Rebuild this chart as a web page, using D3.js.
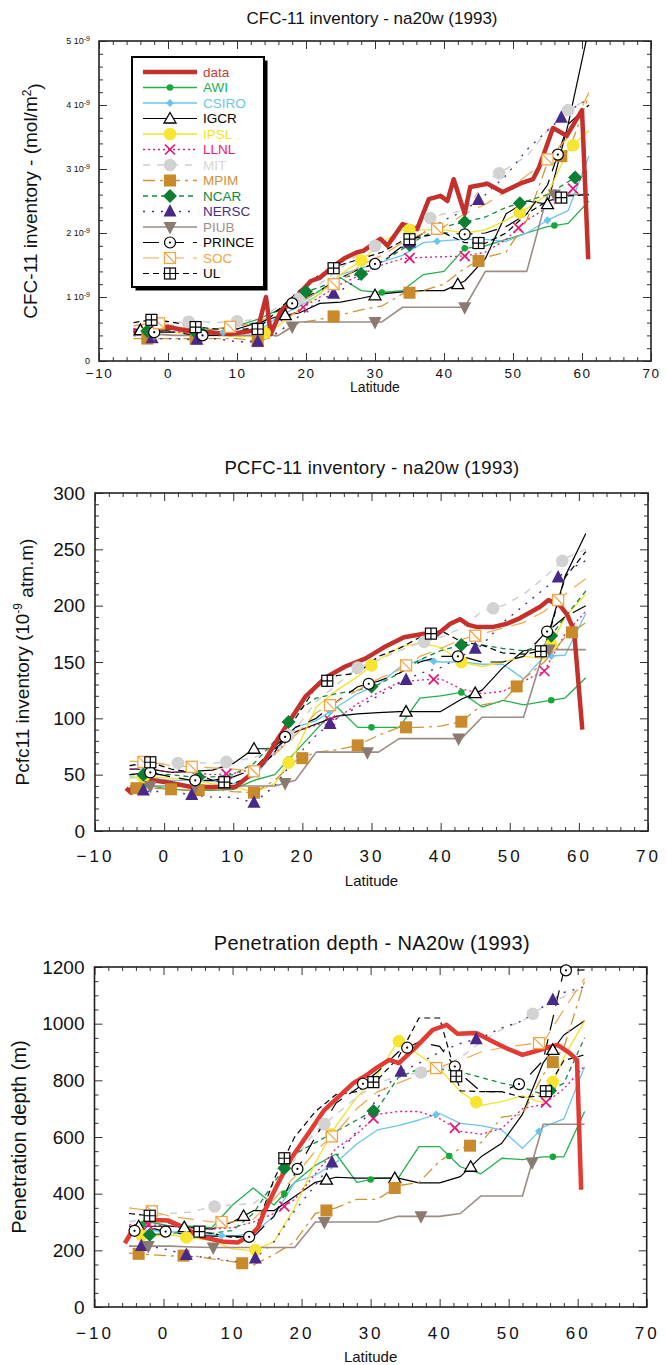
<!DOCTYPE html>
<html><head><meta charset="utf-8">
<script src="https://cdn.jsdelivr.net/npm/d3@7"></script>
<style>
body{margin:0;background:#fff;}
svg{display:block;font-family:"Liberation Sans",Arial,sans-serif;}
</style></head><body>
<svg id="c" width="666" height="1365"></svg>
<script>
// ---------------- DATA ----------------
const latGrid = [-5,-2,1,4,7,10,13,16,19,22,25,28,31,34,37,40,43,46,49,52,55,58,61];
const models = ["AWI","CSIRO","IGCR","IPSL","LLNL","MIT","MPIM","NCAR","NERSC","PIUB","PRINCE","SOC","UL"];
const xTickLabels = [-10,0,10,20,30,40,50,60,70];

// Panel 1: CFC-11 inventory (units of 1e-9 mol/m2)
const cfcDataLat = [-5,-3,0,3,6,9,12,13,14.2,14.9,16.3,18.3,20.7,22,24,25.5,27.4,28.3,30.8,31.8,34,36.1,37.8,39.5,40.5,41.4,43,43.8,46.3,48.5,51,52.9,53.8,55.8,57.8,60,60.9];
const cfcData = [0.45,0.48,0.53,0.47,0.45,0.42,0.47,0.5,1.0,0.42,0.77,0.97,1.25,1.3,1.48,1.6,1.7,1.72,1.91,1.8,2.14,2.06,2.53,2.58,2.5,2.84,2.3,2.72,2.77,2.64,2.77,2.84,3.03,3.64,3.52,3.92,1.59];
const cfcAWI = [0.45,0.5,0.5,0.45,0.5,0.55,0.65,0.8,0.9,1.1,1.3,1.1,1.07,1.1,1.35,1.4,1.76,1.8,1.9,2.0,2.1,2.15,2.5];
const cfcCSIRO = [0.5,0.5,0.45,0.45,0.45,0.45,0.45,0.7,0.85,1.05,1.35,1.45,1.55,1.65,1.85,1.88,1.9,1.9,1.87,2.0,2.2,2.35,3.2];
const cfcIGCR = [0.5,0.45,0.5,0.5,0.45,0.5,0.6,0.7,0.75,0.9,0.92,0.98,1.05,1.08,1.1,1.1,1.25,1.6,2.3,2.5,2.45,3.7,5.2];
const cfcIPSL = [0.45,0.45,0.45,0.4,0.4,0.38,0.38,0.55,0.8,1.05,1.35,1.57,1.85,2.05,2.05,2.05,2.0,2.05,2.2,2.38,2.6,3.3,3.6];
const cfcLLNL = [0.5,0.5,0.45,0.45,0.45,0.45,0.45,0.6,0.8,1.0,1.2,1.35,1.5,1.6,1.62,1.63,1.64,1.7,1.9,2.2,2.4,2.6,3.0];
const cfcMIT = [0.55,0.6,0.6,0.62,0.6,0.62,0.65,0.85,0.97,1.2,1.45,1.7,1.85,1.95,2.2,2.3,2.35,2.8,3.0,3.2,3.6,3.92,4.1];
const cfcMPIM = [0.35,0.35,0.35,0.35,0.35,0.35,0.31,0.4,0.6,0.65,0.72,0.8,0.86,1.05,1.1,1.2,1.45,1.62,1.7,2.2,3.1,3.25,4.15];
const cfcNCAR = [0.45,0.48,0.5,0.45,0.5,0.55,0.6,0.8,1.05,1.15,1.3,1.36,1.55,1.75,1.95,2.1,2.17,2.25,2.4,2.5,2.6,2.8,3.0];
const cfcNERSC = [0.4,0.35,0.35,0.33,0.35,0.3,0.3,0.45,0.7,0.95,1.1,1.3,1.55,1.78,2.0,2.2,2.35,2.6,2.9,3.3,3.6,3.9,4.1];
const cfcPIUB = [0.4,0.42,0.4,0.4,0.4,0.4,0.4,0.4,0.61,0.61,0.61,0.61,0.61,0.84,0.84,0.84,0.84,1.4,1.4,1.4,2.6,2.6,2.6];
const cfcPRINCE = [0.45,0.45,0.45,0.4,0.4,0.45,0.55,0.8,0.95,1.1,1.3,1.45,1.55,1.8,2.0,2.0,1.98,2.0,2.1,2.3,2.75,3.7,4.0];
const cfcSOC = [0.55,0.6,0.55,0.5,0.5,0.55,0.6,0.75,0.9,1.1,1.25,1.5,1.65,1.85,2.0,2.1,2.3,2.45,2.65,2.9,3.15,3.5,4.2];
const cfcUL = [0.6,0.65,0.6,0.53,0.5,0.5,0.5,0.8,1.1,1.35,1.5,1.6,1.7,1.88,1.95,2.0,1.85,1.84,2.0,2.3,2.5,2.58,2.6];
// marker latitudes, panel 1
const cfcMkAWI = [-3,5,18,31,43,56];
const cfcMkCSIRO = [8,24,39,55];
const cfcMkIGCR = [-4,17,30,42,55];
const cfcMkIPSL = [-3,14,28,35,51,58.7];
const cfcMkLLNL = [-2,19.6,35,43,50.8,58.7];
const cfcMkMIT = [3,10,19,30,38,48,58];
const cfcMkMPIM = [-3,4,13,24,35,45,57];
const cfcMkNCAR = [-3,4,20,28,35,43,51,59];
const cfcMkNERSC = [-2.3,4.2,13,24,35,45,57];
const cfcMkPIUB = [-2,18,30,43,56];
const cfcMkPRINCE = [-2,5,18,30,43,56.5];
const cfcMkSOC = [-1.3,9,24,39,55];
const cfcMkUL = [-2.4,4,13,24,35,45,57];

// Panel 2: PCFC-11 inventory (1e-9 atm.m)
const pcfcDataLat = [-5.5,-4.8,-1.7,0.6,4,8,10.3,12.7,14.6,16.6,18.5,20.4,23.3,26.2,29.1,31.8,34.7,37.6,39,41.4,42.8,44,45.3,47.5,49.6,51.5,54.4,55.6,57.3,58.3,59.3,60.5];
const pcfcData = [38,34,45,43,39,39,39,51,63,83,101,119,136,146,153,163,172,175,172,184,188,183,181,181,184,189,199,205,200,192,178,90];
const pcfcAWI = [38,40,37,36,36,37,45,50,70,90,110,92,92,92,118,120,123,110,116,112,115,118,136];
const pcfcCSIRO = [48,47,45,45,44,42,48,70,92,98,110,122,130,145,152,150,150,148,148,135,155,156,193];
const pcfcIGCR = [55,55,52,53,54,60,73,73,88,95,102,104,105,106,106,106,117,125,145,160,162,226,264];
const pcfcIPSL = [47,48,47,45,42,40,34,42,70,110,125,137,152,163,167,163,150,146,150,155,153,190,210];
const pcfcLLNL = [55,55,52,52,50,51,55,68,88,94,100,113,123,132,134,135,126,122,124,133,142,175,195];
const pcfcMIT = [58,60,60,61,60,62,65,75,90,115,130,145,152,160,167,172,180,195,200,210,225,242,250];
const pcfcMPIM = [38,38,37,36,37,35,34,45,62,70,72,76,85,92,92,93,97,112,115,135,150,172,185];
const pcfcNCAR = [50,50,50,48,48,50,60,80,105,118,122,125,130,140,152,160,165,165,162,160,165,190,213];
const pcfcNERSC = [38,35,35,32,30,30,25,40,65,85,100,110,120,131,140,145,155,165,185,200,215,230,240];
const pcfcPIUB = [40,40,40,40,40,40,40,40,45,70,70,70,70,82,82,82,82,101,101,101,161,161,161];
const pcfcPRINCE = [50,52,48,45,45,48,55,75,92,100,115,128,133,140,150,155,155,150,150,155,175,190,200];
const pcfcSOC = [62,61,58,57,56,55,53,68,85,105,115,125,135,143,155,162,170,175,180,185,195,210,224];
const pcfcUL = [58,61,55,52,45,42,50,70,100,128,138,140,155,162,172,178,168,165,158,157,160,225,248];
const pcfcMkAWI = [-3,5,18,30,43,56];
const pcfcMkCSIRO = [24,39,56];
const pcfcMkIGCR = [-2,13,35,45];
const pcfcMkIPSL = [-3,18,30,43,56];
const pcfcMkLLNL = [-2,9,24,39,55];
const pcfcMkMIT = [-3,2,9,18,28,37.6,47.6,57.6];
const pcfcMkMPIM = [-4,1,5,13,20,28,35,43,51,59];
const pcfcMkNCAR = [-3,5,18,30,43,56];
const pcfcMkNERSC = [-3,4,13,24,35,45,57];
const pcfcMkPIUB = [-2,4.5,17.5,29.4,42.6,55.7];
const pcfcMkPRINCE = [-2,4.5,17.5,29.6,42.5,55.4];
const pcfcMkSOC = [-3,4,13,24,35,45,57];
const pcfcMkUL = [-2,8.7,23.6,38.6,54.5];

// Panel 3: Penetration depth (m)
const depDataLat = [-5.6,-4.2,-1.7,0.7,3,5.5,8.8,10.8,12.7,13.7,14.6,16.6,18.5,21,23.3,25.5,27.5,29.4,30.8,32.7,34.1,36.6,39,40.4,41,42.6,45.3,47.7,49.6,52,53.5,55.4,57.1,58.8,59.9,60.5];
const depData = [225,283,307,305,280,248,230,228,255,280,337,437,525,613,695,745,790,818,843,872,861,918,978,990,996,964,967,937,914,890,900,914,925,897,872,414];
const depAWI = [275,300,285,285,280,360,420,360,440,500,540,440,455,455,566,566,495,470,525,520,530,530,690];
const depCSIRO = [270,270,265,265,255,250,260,320,440,465,510,575,625,640,660,683,648,640,625,560,635,664,848];
const depIGCR = [285,285,285,280,275,300,340,340,390,440,458,455,455,455,438,438,460,530,578,680,862,960,1010];
const depIPSL = [260,250,255,243,235,205,198,230,350,510,640,740,820,940,890,840,760,712,725,745,720,880,1010];
const depLLNL = [290,290,285,280,275,280,300,330,380,470,560,610,680,690,690,665,620,610,630,700,715,770,850];
const depMIT = [300,320,330,335,354,360,365,420,520,620,680,740,790,815,826,840,880,935,980,1010,1060,1095,1130];
const depMPIM = [190,185,180,182,170,160,148,185,230,330,350,380,380,428,440,515,560,580,670,680,820,915,1150];
const depNCAR = [270,255,260,265,260,270,330,440,540,580,620,660,700,810,840,840,830,810,790,775,750,790,950];
const depNERSC = [215,215,200,178,175,160,165,230,340,430,530,620,740,826,860,900,930,950,985,1010,1060,1110,1130];
const depPIUB = [215,215,215,212,210,210,210,210,210,300,300,300,300,320,320,320,330,392,392,392,645,645,645];
const depPRINCE = [265,280,262,255,250,250,247,320,470,600,720,770,830,900,935,920,823,760,760,792,870,1188,1190];
const depSOC = [350,340,320,310,300,300,310,380,460,550,615,700,760,790,820,848,870,900,915,925,933,1050,1160];
const depUL = [330,322,295,270,260,245,250,450,600,690,750,760,802,880,1020,1020,763,760,760,740,745,870,890];
const depMkAWI = [-3,17.5,30,41.4,56.4];
const depMkCSIRO = [8.4,24.3,39.5,54.4];
const depMkIGCR = [-3.6,3,11.6,23.6,33.5,44.5,56.4];
const depMkIPSL = [-3.2,3.3,13.3,24.3,34.1,45.3,56.4];
const depMkLLNL = [-2.2,17.5,30.4,42.2,55.4];
const depMkMIT = [7.4,23.3,37.3,53.5];
const depMkMPIM = [-3.6,2.9,11.4,23.6,33.5,44.4,56.4];
const depMkNCAR = [-2,17.5,30.4,56];
const depMkNERSC = [-3.2,3.3,13.3,24.4,34.4,45.3,56.4];
const depMkPIUB = [-2.2,7.2,23.3,37.3,53.4];
const depMkPRINCE = [-4.2,0.3,12.4,19.4,28.9,35.3,42.2,51.5,58.3];
const depMkSOC = [-1.7,8.4,24.4,39.5,54.4];
const depMkUL = [-2,5.2,17.5,30.4,42.4,55.4];

// ---------------- tables built from the arrays ----------------
const cfcSeries = {AWI:cfcAWI,CSIRO:cfcCSIRO,IGCR:cfcIGCR,IPSL:cfcIPSL,LLNL:cfcLLNL,MIT:cfcMIT,MPIM:cfcMPIM,NCAR:cfcNCAR,NERSC:cfcNERSC,PIUB:cfcPIUB,PRINCE:cfcPRINCE,SOC:cfcSOC,UL:cfcUL};
const cfcMarks = {AWI:cfcMkAWI,CSIRO:cfcMkCSIRO,IGCR:cfcMkIGCR,IPSL:cfcMkIPSL,LLNL:cfcMkLLNL,MIT:cfcMkMIT,MPIM:cfcMkMPIM,NCAR:cfcMkNCAR,NERSC:cfcMkNERSC,PIUB:cfcMkPIUB,PRINCE:cfcMkPRINCE,SOC:cfcMkSOC,UL:cfcMkUL};
const pcfcSeries = {AWI:pcfcAWI,CSIRO:pcfcCSIRO,IGCR:pcfcIGCR,IPSL:pcfcIPSL,LLNL:pcfcLLNL,MIT:pcfcMIT,MPIM:pcfcMPIM,NCAR:pcfcNCAR,NERSC:pcfcNERSC,PIUB:pcfcPIUB,PRINCE:pcfcPRINCE,SOC:pcfcSOC,UL:pcfcUL};
const pcfcMarks = {AWI:pcfcMkAWI,CSIRO:pcfcMkCSIRO,IGCR:pcfcMkIGCR,IPSL:pcfcMkIPSL,LLNL:pcfcMkLLNL,MIT:pcfcMkMIT,MPIM:pcfcMkMPIM,NCAR:pcfcMkNCAR,NERSC:pcfcMkNERSC,PIUB:pcfcMkPIUB,PRINCE:pcfcMkPRINCE,SOC:pcfcMkSOC,UL:pcfcMkUL};
const depSeries = {AWI:depAWI,CSIRO:depCSIRO,IGCR:depIGCR,IPSL:depIPSL,LLNL:depLLNL,MIT:depMIT,MPIM:depMPIM,NCAR:depNCAR,NERSC:depNERSC,PIUB:depPIUB,PRINCE:depPRINCE,SOC:depSOC,UL:depUL};
const depMarks = {AWI:depMkAWI,CSIRO:depMkCSIRO,IGCR:depMkIGCR,IPSL:depMkIPSL,LLNL:depMkLLNL,MIT:depMkMIT,MPIM:depMkMPIM,NCAR:depMkNCAR,NERSC:depMkNERSC,PIUB:depMkPIUB,PRINCE:depMkPRINCE,SOC:depMkSOC,UL:depMkUL};

// ---------------- STYLES ----------------
const style = {
  AWI:{color:"#21b04a",dash:null,w:1.3,marker:"dotS",mcolor:"#16a83a",tcolor:"#21b14b"},
  CSIRO:{color:"#6cc4ef",dash:null,w:1.3,marker:"diamondS",mcolor:"#6cc4ef",tcolor:"#6cc4ef"},
  IGCR:{color:"#000",dash:null,w:1.2,marker:"triOpen",mcolor:"#000",tcolor:"#000"},
  IPSL:{color:"#f3e22a",dash:null,w:1.3,marker:"circleL",mcolor:"#f7e531",tcolor:"#f2e32a"},
  LLNL:{color:"#e8167c",dash:"2,3",w:1.3,marker:"x",mcolor:"#e8167c",tcolor:"#e8167c"},
  MIT:{color:"#cfcfcf",dash:"7,7",w:1.5,marker:"circleL",mcolor:"#d2d2d2",tcolor:"#d6d6d6"},
  MPIM:{color:"#d09335",dash:"12,5,3,5",w:1.3,marker:"square",mcolor:"#c98a2b",tcolor:"#d1913a"},
  NCAR:{color:"#118a3c",dash:"5,4",w:1.3,marker:"diamond",mcolor:"#0d7f33",tcolor:"#0e8a3a"},
  NERSC:{color:"#4a2a8c",dash:"2,7",w:1.4,marker:"triUp",mcolor:"#48298a",tcolor:"#4a2a8c"},
  PIUB:{color:"#9c8c84",dash:null,w:1.6,marker:"triDown",mcolor:"#8a7a72",tcolor:"#a08f88"},
  PRINCE:{color:"#000",dash:"16,9",w:1.2,marker:"circleDot",mcolor:"#000",tcolor:"#000"},
  SOC:{color:"#f2a547",dash:"16,9",w:1.2,marker:"squareDiag",mcolor:"#f2a547",tcolor:"#f2a547"},
  UL:{color:"#000",dash:"6,4",w:1.2,marker:"squarePlus",mcolor:"#000",tcolor:"#000"}
};

const svg = d3.select("#c");

function marker(g, type, x, y, c) {
  switch(type){
    case "dotS": g.append("circle").attr("cx",x).attr("cy",y).attr("r",3.3).attr("fill",c); break;
    case "diamondS": g.append("path").attr("d",`M${x},${y-4}L${x+4},${y}L${x},${y+4}L${x-4},${y}Z`).attr("fill",c); break;
    case "triOpen": g.append("path").attr("d",`M${x},${y-6}L${x+6},${y+4.5}L${x-6},${y+4.5}Z`).attr("fill","#fff").attr("stroke","#000").attr("stroke-width",1.3); break;
    case "circleL": g.append("circle").attr("cx",x).attr("cy",y).attr("r",6.3).attr("fill",c); break;
    case "x": g.append("path").attr("d",`M${x-5},${y-5}L${x+5},${y+5}M${x-5},${y+5}L${x+5},${y-5}`).attr("stroke",c).attr("stroke-width",1.7); break;
    case "square": g.append("rect").attr("x",x-6).attr("y",y-6).attr("width",12).attr("height",12).attr("fill",c); break;
    case "diamond": g.append("path").attr("d",`M${x},${y-7}L${x+7},${y}L${x},${y+7}L${x-7},${y}Z`).attr("fill",c); break;
    case "triUp": g.append("path").attr("d",`M${x},${y-7.5}L${x+6.5},${y+5}L${x-6.5},${y+5}Z`).attr("fill",c); break;
    case "triDown": g.append("path").attr("d",`M${x},${y+7.5}L${x+6.5},${y-5}L${x-6.5},${y-5}Z`).attr("fill",c); break;
    case "circleDot":
      g.append("circle").attr("cx",x).attr("cy",y).attr("r",5.5).attr("fill","#fff").attr("stroke","#000").attr("stroke-width",1.2);
      g.append("circle").attr("cx",x).attr("cy",y).attr("r",1.1).attr("fill","#000"); break;
    case "squareDiag":
      g.append("rect").attr("x",x-5.5).attr("y",y-5.5).attr("width",11).attr("height",11).attr("fill","#fff").attr("stroke",c).attr("stroke-width",1.3);
      g.append("path").attr("d",`M${x-5.5},${y-5.5}L${x+5.5},${y+5.5}`).attr("stroke",c).attr("stroke-width",1.2); break;
    case "squarePlus":
      g.append("rect").attr("x",x-5.5).attr("y",y-5.5).attr("width",11).attr("height",11).attr("fill","#fff").attr("stroke","#000").attr("stroke-width",1.2);
      g.append("path").attr("d",`M${x},${y-5.5}L${x},${y+5.5}M${x-5.5},${y}L${x+5.5},${y}`).attr("stroke","#000").attr("stroke-width",1.2); break;
  }
}

const panels = [
  {id:"cfc", title:"CFC-11 inventory - na20w (1993)", titleY:24, titleFont:17, titleLS:0, top:41,bottom:361,left:99,right:651,
   ymax:5, yMajor:1, yMinor:0.2, series:cfcSeries, marks:cfcMarks, dLat:cfcDataLat, dVal:cfcData, dColor:"#c4302b",
   xFont:13.5, xLS:1.5, xPad:7, yFont:9, yPad:9, latY:392, latFont:14, legend:true},
  {id:"pcfc", title:"PCFC-11 inventory - na20w (1993)", titleY:474, titleFont:18.5, titleLS:0.3, top:493,bottom:831,left:95,right:648,
   ymax:300, yMajor:50, yMinor:10, series:pcfcSeries, marks:pcfcMarks, dLat:pcfcDataLat, dVal:pcfcData, dColor:"#c4302b",
   xFont:17, xLS:3, xPad:19, yFont:19, yPad:10, latY:886, latFont:15},
  {id:"dep", title:"Penetration depth - NA20w (1993)", titleY:950, titleFont:20, titleLS:0.4, top:967,bottom:1307,left:94.5,right:646.7,
   ymax:1200, yMajor:200, yMinor:50, series:depSeries, marks:depMarks, dLat:depDataLat, dVal:depData, dColor:"#e23b33",
   xFont:17, xLS:3, xPad:20, yFont:19, yPad:10, latY:1362, latFont:15}
];

function drawPanel(p, idx) {
  const x = d3.scaleLinear().domain([-10,70]).range([p.left,p.right]);
  const y = d3.scaleLinear().domain([0,p.ymax]).range([p.bottom,p.top]);
  const g = svg.append("g");
  const clipId = "clip"+idx;
  svg.append("clipPath").attr("id",clipId).append("rect")
    .attr("x",p.left).attr("y",p.top).attr("width",p.right-p.left).attr("height",p.bottom-p.top);

  const xMinor = d3.range(-10,70.01,2).filter(v=>v%10!==0);
  const xMajor = xTickLabels;
  const nMin = Math.round(p.ymax/p.yMinor);
  const yMinor = d3.range(0,nMin+1).map(i=>i*p.yMinor).filter(v=>Math.abs(v/p.yMajor-Math.round(v/p.yMajor))>1e-6);
  const yMajor = d3.range(0,Math.round(p.ymax/p.yMajor)+1).map(i=>i*p.yMajor);
  const tickCol = "#333";
  function ax(gen, tr) {
    const a = g.append("g").attr("transform",tr).call(gen);
    a.select(".domain").remove();
    a.selectAll("line").attr("stroke",tickCol).attr("stroke-width",1);
    return a;
  }
  // bottom
  ax(d3.axisBottom(x).tickValues(xMinor).tickSize(-4).tickFormat(""), `translate(0,${p.bottom})`);
  const xb = ax(d3.axisBottom(x).tickValues(xMajor).tickSize(-8).tickPadding(p.xPad).tickFormat(d3.format("d")), `translate(0,${p.bottom})`);
  xb.selectAll("text").attr("font-size",p.xFont).attr("fill","#111").attr("font-family","Liberation Sans, Arial, sans-serif")
    .style("letter-spacing",p.xLS+"px");
  // top
  ax(d3.axisTop(x).tickValues(xMinor).tickSize(-4).tickFormat(""), `translate(0,${p.top})`);
  ax(d3.axisTop(x).tickValues(xMajor).tickSize(-8).tickFormat(""), `translate(0,${p.top})`);
  // left
  ax(d3.axisLeft(y).tickValues(yMinor).tickSize(-4).tickFormat(""), `translate(${p.left},0)`);
  const yl = ax(d3.axisLeft(y).tickValues(yMajor).tickSize(-8).tickPadding(p.yPad).tickFormat(d3.format("d")), `translate(${p.left},0)`);
  yl.selectAll("text").attr("font-size",p.yFont).attr("fill","#111").attr("font-family","Liberation Sans, Arial, sans-serif");
  if (p.id==="cfc") {
    yl.selectAll("text").each(function(d){
      const t = d3.select(this);
      if (d===0) { t.text("0"); return; }
      t.text(null);
      t.append("tspan").text(d3.format("d")(d)+" 10");
      t.append("tspan").attr("dy","-0.45em").attr("font-size",7).text("-9");
    });
  }
  // right
  ax(d3.axisRight(y).tickValues(yMinor).tickSize(-4).tickFormat(""), `translate(${p.right},0)`);
  ax(d3.axisRight(y).tickValues(yMajor).tickSize(-8).tickFormat(""), `translate(${p.right},0)`);

  // frame
  g.append("rect").attr("x",p.left).attr("y",p.top).attr("width",p.right-p.left).attr("height",p.bottom-p.top)
    .attr("fill","none").attr("stroke","#222").attr("stroke-width",1.6);

  // lines
  const plot = g.append("g").attr("clip-path",`url(#${clipId})`);
  const line = d3.line().x(d=>x(d[0])).y(d=>y(d[1]));
  models.forEach(m=>{
    const s = style[m];
    plot.append("path").datum(d3.zip(latGrid,p.series[m])).attr("d",line)
      .attr("fill","none").attr("stroke",s.color).attr("stroke-width",s.w)
      .attr("stroke-dasharray",s.dash).attr("stroke-linejoin","round");
  });
  plot.append("path").datum(d3.zip(p.dLat,p.dVal)).attr("d",line)
    .attr("fill","none").attr("stroke",p.dColor).attr("stroke-width",4.5).attr("stroke-linejoin","round");

  // markers
  const mg = g.append("g");
  models.forEach(m=>{
    const s = style[m];
    const interp = d3.scaleLinear().domain(latGrid).range(p.series[m]);
    p.marks[m].forEach(la=>{
      const v = interp(la);
      if (v<=p.ymax) marker(mg, s.marker, x(la), y(v), s.mcolor);
    });
  });

  // titles
  const cx = 372;
  svg.append("text").attr("x",cx).attr("y",p.titleY).attr("text-anchor","middle")
    .attr("font-size",p.titleFont).style("letter-spacing",p.titleLS+"px").attr("fill","#111").text(p.title);
  svg.append("text").attr("x",(p.left+p.right)/2).attr("y",p.latY).attr("text-anchor","middle")
    .attr("font-size",p.latFont).attr("fill","#111").text("Latitude");

  // y-axis title
  const cy = (p.top+p.bottom)/2;
  if (p.id==="cfc") {
    const t = svg.append("text").attr("transform",`translate(37,${cy}) rotate(-90)`).attr("text-anchor","middle")
      .attr("font-size",19).attr("fill","#111");
    t.append("tspan").text("CFC-11 inventory - (mol/m");
    t.append("tspan").attr("dy","-0.5em").attr("font-size",12).text("2");
    t.append("tspan").attr("dy","0.5em").text(")");
  } else if (p.id==="pcfc") {
    const t = svg.append("text").attr("transform",`translate(29,${cy}) rotate(-90)`).attr("text-anchor","middle")
      .attr("font-size",19).attr("fill","#111");
    t.append("tspan").text("Pcfc11 inventory (10");
    t.append("tspan").attr("dy","-0.55em").attr("font-size",12).text("-9");
    t.append("tspan").attr("dy","0.55em").text(" atm.m)");
  } else {
    svg.append("text").attr("transform",`translate(26,${cy}) rotate(-90)`).attr("text-anchor","middle")
      .attr("font-size",20).attr("fill","#111").text("Penetration depth (m)");
  }

  // legend
  if (p.legend) {
    const lg = svg.append("g");
    const bx=132, by=57, bw=132, bh=230;
    lg.append("rect").attr("x",bx+3.5).attr("y",by+3.5).attr("width",bw).attr("height",bh).attr("fill","#000");
    lg.append("rect").attr("x",bx).attr("y",by).attr("width",bw).attr("height",bh).attr("fill","#fff")
      .attr("stroke","#000").attr("stroke-width",2);
    const rowY = i => 72 + i*15.5;
    lg.append("line").attr("x1",143).attr("x2",197).attr("y1",rowY(0)).attr("y2",rowY(0))
      .attr("stroke",p.dColor).attr("stroke-width",4.5);
    lg.append("text").attr("x",203).attr("y",rowY(0)).attr("dy","0.36em").attr("font-size",13.5)
      .attr("fill","#c83a3a").text("data");
    models.forEach((m,i)=>{
      const s = style[m], yy = rowY(i+1);
      lg.append("line").attr("x1",143).attr("x2",197).attr("y1",yy).attr("y2",yy)
        .attr("stroke",s.color).attr("stroke-width",s.w).attr("stroke-dasharray",s.dash);
      marker(lg, s.marker, 170, yy, s.mcolor);
      lg.append("text").attr("x",203).attr("y",yy).attr("dy","0.36em").attr("font-size",13.5)
        .attr("fill",s.tcolor).text(m);
    });
  }
}
panels.forEach(drawPanel);
</script>
</body></html>
